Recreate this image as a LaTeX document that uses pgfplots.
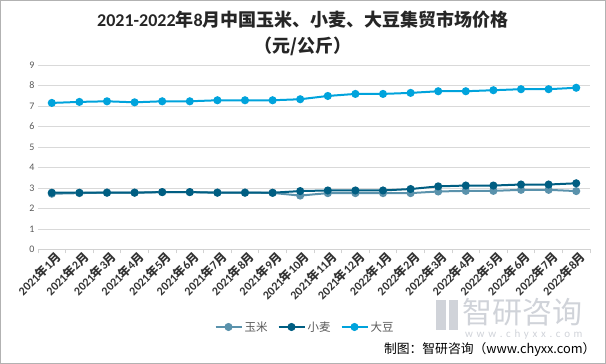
\documentclass[border=0pt]{standalone}
\usepackage{pgfplots}
\pgfplotsset{compat=1.18}
\usepackage{fontspec}
\setmainfont{Carlito}
\newfontfamily\cjk{Noto Sans CJK SC}
\definecolor{corn}{RGB}{90,146,172}
\definecolor{wheat}{RGB}{0,94,130}
\definecolor{soy}{RGB}{0,163,220}
\definecolor{tick}{RGB}{89,89,89}
\definecolor{wm}{RGB}{208,211,217}
\newcommand\ym[2]{#1{\cjk\bfseries 年}#2{\cjk\bfseries 月}}
\begin{document}
\begin{tikzpicture}
\useasboundingbox (0pt,0pt) rectangle (606pt,364pt);
\draw[gray!60, line width=0.8pt] (0.5pt,0.5pt) rectangle (605.5pt,363.5pt);
% watermark
\fill[wm] (436pt,34pt) rectangle (446pt,64pt);
\fill[wm] (449pt,34pt) rectangle (458pt,64pt);
\node[text=wm, font=\cjk\fontsize{30}{31}\selectfont, anchor=west, inner sep=0pt] at (462pt,52pt) {智研咨询};
\node[text=wm, font=\fontsize{11}{12}\selectfont, anchor=west, inner sep=0pt] at (465pt,29pt) {w\,\,w\,\,w\,\,.\,\,c\,\,h\,\,y\,\,x\,\,x\,\,.\,\,c\,\,o\,\,m};
% titles
\node[font=\fontsize{18}{20}\selectfont\bfseries, text=black!85] at (303pt,344pt) {2021-2022{\cjk\bfseries 年}8{\cjk\bfseries 月中国玉米、小麦、大豆集贸市场价格}};
\node[font=\cjk\fontsize{18}{20}\selectfont\bfseries, text=black!85] at (303pt,318pt) {（元/公斤）};
\node[font=\cjk\fontsize{12.8}{14}\selectfont, anchor=east] at (599pt,14pt) {制图：智研咨询（www.chyxx.com）};
\begin{axis}[
  at={(38pt,114.5pt)}, anchor=south west,
  width=552pt, height=184.5pt, scale only axis,
  xmin=-0.5, xmax=19.5, ymin=0, ymax=9,
  ytick={0,...,9},
  ymajorgrids, grid style={draw=gray!30, line width=0.8pt},
  axis x line*=bottom, axis y line*=left,
  y axis line style={draw=none},
  x axis line style={draw=gray!35, line width=0.8pt},
  xtick={0,...,19},
  xticklabels={\ym{2021}{1},\ym{2021}{2},\ym{2021}{3},\ym{2021}{4},\ym{2021}{5},\ym{2021}{6},\ym{2021}{7},\ym{2021}{8},\ym{2021}{9},\ym{2021}{10},\ym{2021}{11},\ym{2021}{12},\ym{2022}{1},\ym{2022}{2},\ym{2022}{3},\ym{2022}{4},\ym{2022}{5},\ym{2022}{6},\ym{2022}{7},\ym{2022}{8}},
  minor xtick={-0.5,0.5,...,19.5},
  tick align=outside,
  major tick length=0pt, minor tick length=4pt,
  minor tick style={draw=gray!35, line width=0.8pt},
  x tick label style={rotate=45, anchor=north east, font=\fontsize{12}{13}\selectfont\bfseries, text=black!80, inner sep=0.5pt, yshift=-2pt, xshift=2pt},
  y tick label style={font=\fontsize{10}{11}\selectfont, text=tick},
  /pgf/number format/assume math mode=true,
  legend style={at={(0.4837,-0.42)}, anchor=center, draw=none, fill=none, legend columns=3,
    font=\cjk\fontsize{11.5}{13}\selectfont, text=tick,
    /tikz/every even column/.append style={column sep=8pt}},
  legend image code/.code={\draw[#1] (0pt,0pt) -- (26pt,0pt); \draw[#1, only marks] plot coordinates {(13pt,0pt)};},
  every axis plot/.append style={line width=2pt, mark=*, mark size=3pt},
]
\addplot[color=corn, mark options={fill=corn}] coordinates {
(0,2.72) (1,2.75) (2,2.78) (3,2.78) (4,2.80) (5,2.80) (6,2.78) (7,2.78) (8,2.76) (9,2.63)
(10,2.75) (11,2.75) (12,2.75) (13,2.75) (14,2.83) (15,2.86) (16,2.86) (17,2.91) (18,2.91) (19,2.85)};
\addlegendentry{玉米}
\addplot[color=wheat, mark options={fill=wheat}] coordinates {
(0,2.77) (1,2.77) (2,2.77) (3,2.77) (4,2.80) (5,2.80) (6,2.77) (7,2.77) (8,2.77) (9,2.85)
(10,2.88) (11,2.88) (12,2.88) (13,2.95) (14,3.08) (15,3.12) (16,3.12) (17,3.17) (18,3.17) (19,3.23)};
\addlegendentry{小麦}
\addplot[color=soy, mark options={fill=soy}] coordinates {
(0,7.15) (1,7.20) (2,7.23) (3,7.18) (4,7.23) (5,7.23) (6,7.28) (7,7.28) (8,7.28) (9,7.33)
(10,7.49) (11,7.59) (12,7.59) (13,7.64) (14,7.72) (15,7.72) (16,7.77) (17,7.82) (18,7.82) (19,7.89)};
\addlegendentry{大豆}
\end{axis}
\end{tikzpicture}
\end{document}
